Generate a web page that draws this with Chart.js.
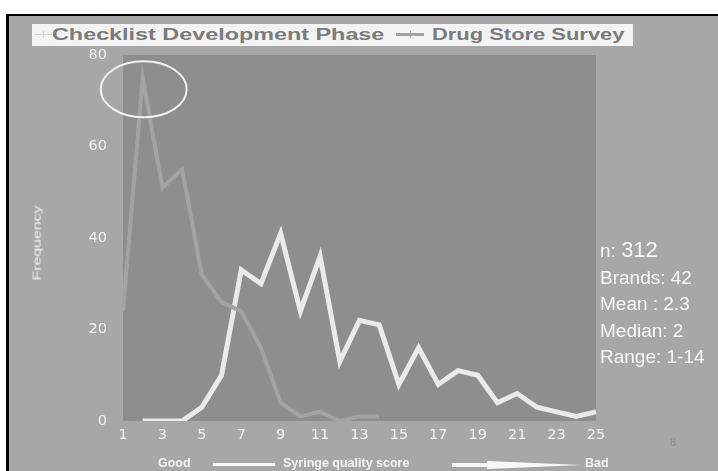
<!DOCTYPE html>
<html lang="en">
<head>
    <meta charset="UTF-8">
    <title>Syringe quality score</title>
    <style>
        body {
            margin: 0;
            width: 718px;
            height: 471px;
            background: #ffffff;
            position: relative;
            overflow: hidden;
            font-family: 'Liberation Sans', Arial, sans-serif;
        }
        .frame {
            position: absolute;
            left: 6px;
            top: 14px;
            width: 712px;
            height: 457px;
            background: #a7a7a7;
            border-left: 3px solid #000;
            border-top: 2px solid #000;
        }
        #chart {
            position: absolute;
            left: 0;
            top: 0;
        }
        .legend {
            position: absolute;
            left: 32px;
            top: 24px;
            width: 601px;
            height: 22px;
            background: #f3f3f3;
            font-weight: bold;
            font-size: 16px;
            color: #7b7b7b;
            line-height: 22px;
            white-space: nowrap;
        }
        .legend span {
            position: absolute;
            top: 0;
            transform-origin: 0 50%;
        }
        .mark {
            position: absolute;
            top: 10px;
        }
        .mark i {
            position: absolute;
            width: 1px;
        }
        .freq {
            position: absolute;
            left: 37px;
            top: 243px;
            transform: translate(-50%, -50%) rotate(-90deg) scaleX(1.22) scaleY(0.85);
            font-size: 13px;
            color: #f2f2f2;
            white-space: nowrap;
        }
        .stats {
            position: absolute;
            left: 600px;
            top: 237px;
            color: #f7f7f7;
            font-size: 19px;
            line-height: 26.5px;
            white-space: nowrap;
        }
        .stats .big { font-size: 22px; }
        .page {
            position: absolute;
            left: 670px;
            top: 435px;
            font-family: 'Liberation Serif', serif;
            font-size: 12px;
            color: #8c8c8c;
        }
        .bottom {
            position: absolute;
            top: 456px;
            font-weight: bold;
            font-size: 12.5px;
            color: #f4f4f4;
            white-space: nowrap;
        }
        .bar {
            position: absolute;
            background: #f8f8f8;
        }
    </style>
</head>
<body>
<div class="frame"></div>
<canvas id="chart" width="718" height="471"></canvas>

<div class="legend">
    <div class="mark" style="left:3px;width:17px;height:1px;background:#d2d2d2"><i style="left:8px;top:-3px;height:7px;background:#d2d2d2"></i></div>
    <span style="left:20px;transform:scaleX(1.46)">Checklist Development Phase</span>
    <div class="mark" style="left:364px;top:9px;width:28px;height:3px;background:#a3a3a3"><i style="left:14px;top:-2px;height:7px;background:#a3a3a3"></i></div>
    <span style="left:400px;transform:scaleX(1.37)">Drug Store Survey</span>
</div>

<div class="freq">Frequency</div>

<div class="stats">
    n: <span class="big">312</span><br>
    Brands: 42<br>
    Mean : 2.3<br>
    Median: 2<br>
    Range: 1-14
</div>

<div class="page">8</div>

<div class="bottom" style="left:158px">Good</div>
<div class="bar" style="left:213px;top:463px;width:62px;height:3px"></div>
<div class="bottom" style="left:283px">Syringe quality score</div>
<div class="bar" style="left:452px;top:463px;width:130px;height:8px;background:transparent">
    <div class="bar" style="left:0;top:0;width:36px;height:4px"></div>
    <div class="bar" style="left:35px;top:-2px;width:95px;height:8px;clip-path:polygon(0 0,100% 50%,0 100%)"></div>
</div>
<div class="bottom" style="left:585px">Bad</div>

<script src="https://cdn.jsdelivr.net/npm/chart.js"></script>
<script>
    // syringe quality score (1 = good, 25 = bad)
    const scores = [1, 2, 3, 4, 5, 6, 7, 8, 9, 10, 11, 12, 13, 14, 15, 16, 17, 18, 19, 20, 21, 22, 23, 24, 25];
    const checklist = [24, 75, 51, 55, 32, 26, 24, 16, 4, 1, 2, 0, 1, 1];
    const drugStore = [null, 0, 0, 0, 3, 10, 33, 30, 41, 24, 36, 13, 22, 21, 8, 16, 8, 11, 10, 4, 6, 3, 2, 1, 2];
    const yTicks = [0, 20, 40, 60, 80];

    // darker plot area + circle round the checklist peak
    const plotBack = {
        id: 'plotBack',
        beforeDraw(chart) {
            const a = chart.chartArea;
            const ctx = chart.ctx;
            ctx.save();
            ctx.fillStyle = '#8e8e8e';
            ctx.fillRect(a.left, a.top, a.right - a.left, a.bottom - a.top);
            ctx.restore();
        },
        afterDraw(chart) {
            const x = chart.scales.x;
            const y = chart.scales.y;
            const ctx = chart.ctx;
            const cx = x.getPixelForValue(1.05);
            const cy = y.getPixelForValue(72.5);
            ctx.save();
            ctx.strokeStyle = '#f2f2f2';
            ctx.lineWidth = 2;
            ctx.beginPath();
            ctx.ellipse(cx, cy, 43, 28, 0, 0, Math.PI * 2);
            ctx.stroke();
            ctx.restore();
        }
    };

    new Chart(document.getElementById('chart'), {
        type: 'line',
        data: {
            labels: scores,
            datasets: [{
                label: 'Checklist Development Phase',
                data: checklist,
                borderColor: '#a3a3a3',
                borderWidth: 4,
                pointRadius: 0,
                tension: 0
            }, {
                label: 'Drug Store Survey',
                data: drugStore,
                borderColor: '#eaeaea',
                borderWidth: 5,
                pointRadius: 0,
                tension: 0
            }]
        },
        options: {
            responsive: false,
            animation: false,
            layout: { padding: { top: 55, right: 122, left: 0, bottom: 0 } },
            plugins: {
                legend: { display: false },
                tooltip: { enabled: false }
            },
            scales: {
                x: {
                    offset: false,
                    grid: { display: false, drawTicks: false },
                    border: { display: false },
                    ticks: {
                        autoSkip: false,
                        maxRotation: 0,
                        padding: 6,
                        color: '#f2f2f2',
                        font: { family: 'DejaVu Sans', size: 14.5 },
                        callback: (v, i) => scores[i] % 2 === 1 ? scores[i] : ''
                    },
                    afterFit: s => { s.height = 50; }
                },
                y: {
                    min: 0,
                    max: 80,
                    grid: { display: false, drawTicks: false },
                    border: { display: false },
                    afterBuildTicks: s => { s.ticks = yTicks.map(v => ({ value: v })); },
                    ticks: {
                        padding: 16,
                        color: '#f2f2f2',
                        font: { family: 'DejaVu Sans', size: 14.5 }
                    },
                    afterFit: s => { s.width = 123; }
                }
            }
        },
        plugins: [plotBack]
    });
</script>
</body>
</html>
